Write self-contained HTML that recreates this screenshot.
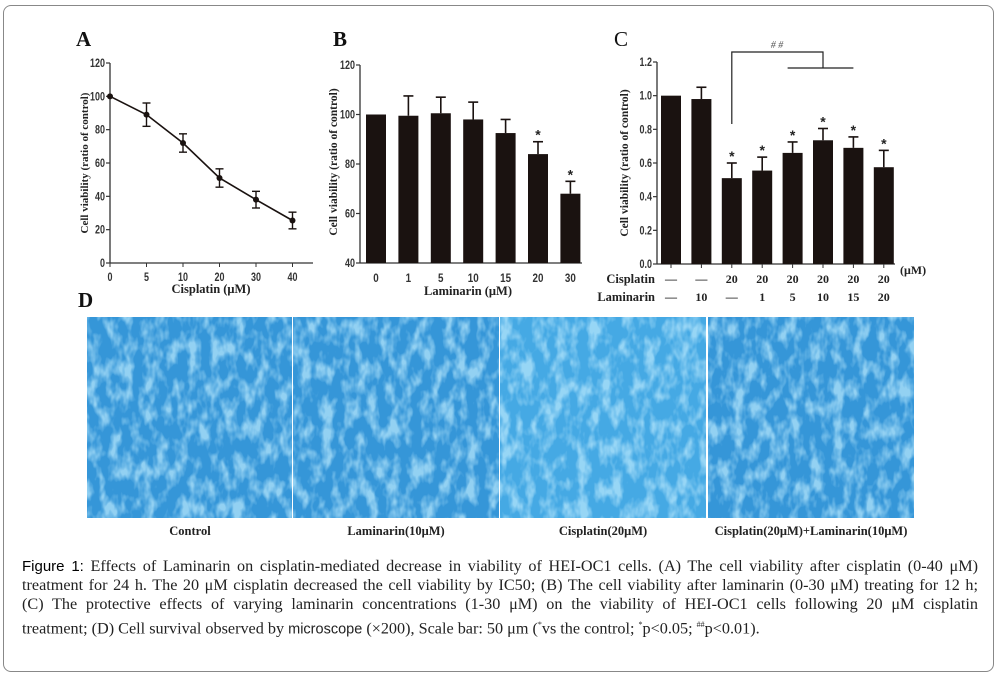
<!DOCTYPE html>
<html><head><meta charset="utf-8">
<style>
html,body{margin:0;padding:0;background:#fff;}
#wrap{position:relative;width:1000px;height:676px;overflow:hidden;}
#frame{position:absolute;left:3px;top:5px;width:991px;height:667px;border:1.5px solid #888;border-radius:8px;box-sizing:border-box;}
#cap{position:absolute;left:22px;top:557px;width:956px;font-family:"Liberation Serif",serif;font-size:16.2px;line-height:19.2px;color:#222;}
#cap div{text-align:justify;text-align-last:justify;white-space:nowrap;}
#cap div.last{text-align-last:left;}
#cap b{font-weight:normal;color:#000;}
svg text{font-family:"Liberation Sans",sans-serif;}
svg text.serif{font-family:"Liberation Serif",serif;}
</style></head><body>
<div id="wrap">
<div id="frame"></div>
<svg id="svg" width="1000" height="676" style="position:absolute;left:0;top:0">
<defs>
<filter id="tex" x="0" y="0" width="100%" height="100%">
<feTurbulence type="fractalNoise" baseFrequency="0.09 0.05" numOctaves="3" seed="7" result="n"/>
<feColorMatrix type="matrix" values="0 0 0 0 0.45  0 0 0 0 0.78  0 0 0 0 0.97  0 0 0 -3 1.75" in="n" result="c"/>
<feComposite in="c" in2="SourceGraphic" operator="in"/>
</filter>
</defs>
<g id="gA"></g>
<g id="gB"></g>
<g id="gC"></g>
<g id="gD"></g>
</svg>
<div id="cap">
<div><b style="font-family:'Liberation Sans',sans-serif;font-size:15px">Figure 1:</b> Effects of Laminarin on cisplatin-mediated decrease in viability of HEI-OC1 cells. (A) The cell viability after cisplatin (0-40 μM)</div>
<div>treatment for 24 h. The 20 μM cisplatin decreased the cell viability by IC50; (B) The cell viability after laminarin (0-30 μM) treating for 12 h;</div>
<div>(C) The protective effects of varying laminarin concentrations (1-30 μM) on the viability of HEI-OC1 cells following 20 μM cisplatin</div>
<div class="last">treatment; (D) Cell survival observed by <span style="font-family:'Liberation Sans',sans-serif;font-size:14.5px">microscope</span> (×200), Scale bar: 50 μm (<sup style="font-size:8px">*</sup>vs the control; <sup style="font-size:8px">*</sup>p&lt;0.05; <sup style="font-size:8px">##</sup>p&lt;0.01).</div>
</div>
</div>
<script>
// Panel A data
const aCats=["0","5","10","20","30","40"];
const aVals=[100,89,72,51,38,25.5];
const aErr=[0,7,5.5,5.5,5,5];
const aTicks=[0,20,40,60,80,100,120];
// Panel B data
const bCats=["0","1","5","10","15","20","30"];
const bVals=[100,99.5,100.5,98,92.5,84,68];
const bErr=[0,8,6.5,7,5.5,5,5];
const bStar=[false,false,false,false,false,true,true];
const bTicks=[40,60,80,100,120];
// Panel C data
const cCis=["—","—","20","20","20","20","20","20"];
const cLam=["—","10","—","1","5","10","15","20"];
const cVals=[1.0,0.98,0.51,0.555,0.66,0.735,0.69,0.575];
const cErr=[0,0.07,0.09,0.08,0.065,0.07,0.065,0.1];
const cStar=[false,false,true,true,true,true,true,true];
const cTicks=["0.0","0.2","0.4","0.6","0.8","1.0","1.2"];
const dLabels=["Control","Laminarin(10μM)","Cisplatin(20μM)","Cisplatin(20μM)+Laminarin(10μM)"];

const NS="http://www.w3.org/2000/svg";
function el(p,tag,at,txt){const e=document.createElementNS(NS,tag);for(const k in at)e.setAttribute(k,at[k]);if(txt!==undefined)e.textContent=txt;p.appendChild(e);return e;}
const K='#1a1210';
function yTicks(g,x0,ys,ticks,labs){ticks.forEach((t,i)=>{const y=ys(t);
 const l=el(g,'line',{x1:x0-4,x2:x0,y1:y,y2:y,stroke:'#333','stroke-width':1.2});
 const tx=el(g,'text',{x:x0-5,y:y+4,'text-anchor':'end','font-size':11.5,'font-weight':'bold',fill:'#333',transform:`translate(${x0-5},0) scale(0.78,1) translate(${-(x0-5)},0)`},labs?labs[i]:t);});}
function vTitle(g,x,y,s,fs){const t=el(g,'text',{class:'serif',x:0,y:0,'text-anchor':'middle','font-size':fs||11,'font-weight':'bold',fill:'#222',transform:`translate(${x},${y}) rotate(-90)`},s);}
function letter(x,y,s,w){const t=el(document.getElementById('svg'),'text',{class:'serif',x,y,'font-size':21,'font-weight':w||'bold',fill:'#111'},s);}
letter(76,46,'A');letter(333,46,'B');letter(614,46,'C','normal');letter(78,307,'D');

// ---- Panel A
(function(){const g=document.getElementById('gA');const x0=110,yT=63,yB=263;
 const ys=v=>yB-(v/120)*(yB-yT);const xs=i=>110+i*36.5;
 el(g,'line',{x1:x0,x2:x0,y1:yT,y2:yB,stroke:'#333','stroke-width':1.3});
 el(g,'line',{x1:x0,x2:313,y1:yB,y2:yB,stroke:'#333','stroke-width':1.3});
 yTicks(g,x0,ys,aTicks);
 aCats.forEach((c,i)=>{el(g,'line',{x1:xs(i),x2:xs(i),y1:yB,y2:yB+4,stroke:'#333'});const t=el(g,'text',{x:xs(i),y:yB+18,'text-anchor':'middle','font-size':11.5,'font-weight':'bold',fill:'#333',transform:`translate(${xs(i)},0) scale(0.78,1) translate(${-xs(i)},0)`},c);});
 const pts=aVals.map((v,i)=>xs(i)+','+ys(v)).join(' ');
 const pl=el(g,'polyline',{points:pts,fill:'none',stroke:K,'stroke-width':1.6});
 aVals.forEach((v,i)=>{const x=xs(i);if(aErr[i]){el(g,'line',{x1:x,x2:x,y1:ys(v+aErr[i]),y2:ys(v-aErr[i]),stroke:K,'stroke-width':1.4});[v+aErr[i],v-aErr[i]].forEach(e=>el(g,'line',{x1:x-4,x2:x+4,y1:ys(e),y2:ys(e),stroke:K,'stroke-width':1.4}));}
  const c=el(g,'circle',{cx:x,cy:ys(v),r:3,fill:K});});
 vTitle(g,88,163,'Cell viability (ratio of control)',11);
 const t=el(g,'text',{class:'serif',x:211,y:293,'text-anchor':'middle','font-size':12.5,'font-weight':'bold',fill:'#222'},'Cisplatin (μM)');
})();

// ---- Panel B
(function(){const g=document.getElementById('gB');const x0=360,yT=65,yB=263;
 const ys=v=>yB-((v-40)/80)*(yB-yT);const xs=i=>376+i*32.4;
 el(g,'line',{x1:x0,x2:x0,y1:yT,y2:yB,stroke:'#333','stroke-width':1.3});
 el(g,'line',{x1:x0,x2:582,y1:yB,y2:yB,stroke:'#333','stroke-width':1.3});
 yTicks(g,x0,ys,bTicks);
 bVals.forEach((v,i)=>{const x=xs(i);
  const r=el(g,'rect',{x:x-10,y:ys(v),width:20,height:yB-ys(v),fill:K});
  if(bErr[i]){el(g,'line',{x1:x,x2:x,y1:ys(v),y2:ys(v+bErr[i]),stroke:K,'stroke-width':1.6});el(g,'line',{x1:x-5,x2:x+5,y1:ys(v+bErr[i]),y2:ys(v+bErr[i]),stroke:K,'stroke-width':1.6});}
  if(bStar[i]){const s=el(g,'text',{x,y:ys(v+bErr[i])-2,'text-anchor':'middle','font-size':14,'font-weight':'bold',fill:'#222'},'*');}
  const t=el(g,'text',{x,y:yB+19,'text-anchor':'middle','font-size':12,'font-weight':'bold',fill:'#333',transform:`translate(${x},0) scale(0.82,1) translate(${-x},0)`},bCats[i]);});
 vTitle(g,337,162,'Cell viability (ratio of control)',11.5);
 const t=el(g,'text',{class:'serif',x:468,y:295,'text-anchor':'middle','font-size':12.5,'font-weight':'bold',fill:'#222'},'Laminarin (μM)');
})();

// ---- Panel C
(function(){const g=document.getElementById('gC');const x0=657,yT=62,yB=264;
 const ys=v=>yB-(v/1.2)*(yB-yT);const xs=i=>671+i*30.4;
 el(g,'line',{x1:x0,x2:x0,y1:yT,y2:yB,stroke:'#333','stroke-width':1.3});
 el(g,'line',{x1:x0,x2:895,y1:yB,y2:yB,stroke:'#333','stroke-width':1.3});
 yTicks(g,x0,ys,cTicks.map(Number),cTicks);
 cVals.forEach((v,i)=>{const x=xs(i);
  const r=el(g,'rect',{x:x-10,y:ys(v),width:20,height:yB-ys(v),fill:K});
  el(g,'line',{x1:x,x2:x,y1:yB,y2:yB+4,stroke:'#333'});
  if(cErr[i]){el(g,'line',{x1:x,x2:x,y1:ys(v),y2:ys(v+cErr[i]),stroke:K,'stroke-width':1.6});el(g,'line',{x1:x-5,x2:x+5,y1:ys(v+cErr[i]),y2:ys(v+cErr[i]),stroke:K,'stroke-width':1.6});}
  if(cStar[i]){const s=el(g,'text',{x,y:ys(v+cErr[i])-2,'text-anchor':'middle','font-size':14,'font-weight':'bold',fill:'#222'},'*');}
  const a=el(g,'text',{class:'serif',x,y:283,'text-anchor':'middle','font-size':12,'font-weight':'bold',fill:'#222'},cCis[i]);
  const b=el(g,'text',{class:'serif',x,y:301,'text-anchor':'middle','font-size':12,'font-weight':'bold',fill:'#222'},cLam[i]);});
 const rc=el(g,'text',{class:'serif',x:655,y:283,'text-anchor':'end','font-size':12.5,'font-weight':'bold',fill:'#222'},'Cisplatin');
 const rl=el(g,'text',{class:'serif',x:655,y:301,'text-anchor':'end','font-size':12.5,'font-weight':'bold',fill:'#222'},'Laminarin');
 const u=el(g,'text',{class:'serif',x:900,y:274,'font-size':12,'font-weight':'bold',fill:'#222'},'(μM)');
 const br=el(g,'polyline',{points:`${xs(2)},124 ${xs(2)},52 ${xs(5)},52 ${xs(5)},68`,fill:'none',stroke:'#222','stroke-width':1.2});
 el(g,'line',{x1:xs(4)-5,x2:xs(6),y1:68,y2:68,stroke:'#222','stroke-width':1.2});
 const hh=el(g,'text',{class:'serif',x:777,y:48,'text-anchor':'middle','font-size':10,'font-style':'italic',fill:'#555'},'# #');
 vTitle(g,628,163,'Cell viability (ratio of control)',11.5);
})();

// ---- Panel D images
(function(){const g=document.getElementById('gD');const xs=[87,293,500,708],ws=[205,206,206,206];const y=317,h=201;
 const ctr=[190,396,603,811];
 xs.forEach((x,i)=>{const im=el(g,'g',{});
  el(im,'rect',{x,y,width:ws[i],height:h,fill:i==2?'#45a9e4':'#3596d8'});
  el(im,'rect',{x,y,width:ws[i],height:h,fill:'#fff',filter:'url(#tex)',opacity:0.75});
  const t=el(g,'text',{class:'serif',x:ctr[i],y:535,'text-anchor':'middle','font-size':12.5,'font-weight':'bold',fill:'#222'},dLabels[i]);});
})();
</script>
</body></html>
